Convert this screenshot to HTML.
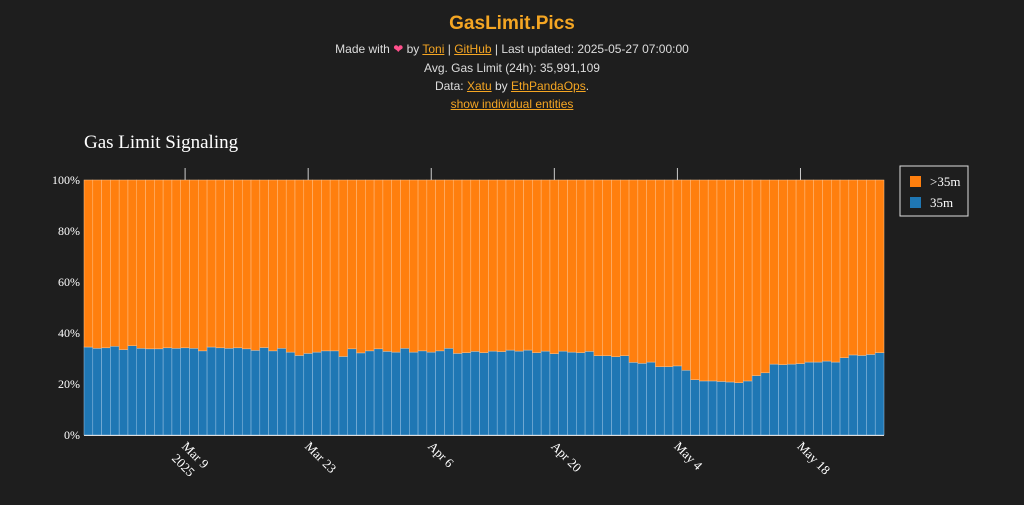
<!DOCTYPE html>
<html><head><meta charset="utf-8"><style>
body{margin:0;width:1024px;height:505px;background:#1e1e1e;overflow:hidden;font-family:"Liberation Sans",sans-serif;color:#ddd}
.hdr{position:absolute;left:0;width:1024px;text-align:center;font-size:12px;color:#ddd}
a{color:#f5a623;text-decoration:underline}
</style></head><body>
<div class="hdr" style="top:13px;font-size:19px;font-weight:bold;color:#f5a623">GasLimit.Pics</div>
<div class="hdr" style="top:42px">Made with <span style="color:#ff4f8b">❤</span> by <a>Toni</a> | <a>GitHub</a> | Last updated: 2025-05-27 07:00:00</div>
<div class="hdr" style="top:61px">Avg. Gas Limit (24h): 35,991,109</div>
<div class="hdr" style="top:79px">Data: <a>Xatu</a> by <a>EthPandaOps</a>.</div>
<div class="hdr" style="top:97px"><a>show individual entities</a></div>
<svg id="c" width="1024" height="505" style="position:absolute;left:0;top:0">
<text x="84" y="148" fill="#fff" font-family="Liberation Serif,serif" font-size="19">Gas Limit Signaling</text>
<g id="bars"></g><g id="ax"></g>
<g>
<rect x="900" y="166" width="68" height="50" fill="#1e1e1e" stroke="#ddd" stroke-width="1"/>
<g><rect x="910" y="176" width="11" height="11" fill="#ff7f0e"/><text x="930" y="186" fill="#fff" font-family="Liberation Serif,serif" font-size="13">&gt;35m</text></g>
<g><rect x="910" y="197" width="11" height="11" fill="#1f77b4"/><text x="930" y="207" fill="#fff" font-family="Liberation Serif,serif" font-size="13">35m</text></g>
</g>
</svg>
<script>
const startDate = "2025-02-26";
const values35m = [34.5,34,34.2,34.8,33.5,35,34,33.8,33.8,34.2,34,34.2,34,33,34.5,34.2,34,34.2,33.8,33.2,34.3,33,34,32.5,31.2,32,32.5,33,33,30.8,33.8,32.2,33,33.8,32.8,32.5,34,32.5,33,32.5,33,34,32,32.3,32.8,
32.3,32.9,32.7,33.3,32.9,33.3,32.3,32.9,31.9,32.9,32.5,32.3,32.8,31.1,31.1,30.7,31.1,28.5,28.1,28.6,26.8,26.8,27.1,25.4,21.7,21.2,21.2,21.0,20.8,20.5,21.2,23.3,24.4,27.8,27.6,27.8,28.0,28.6,28.6,29.0,28.6,30.3,31.4,31.2,31.6,32.3];
const yTicks = [0,20,40,60,80,100];
const xTickLabels = ["Mar 9","Mar 23","Apr 6","Apr 20","May 4","May 18"];
const xTickDays = [11,25,39,53,67,81];
const X0=84,X1=884,Y0=435,Y1=180,NS="http://www.w3.org/2000/svg";
const n=values35m.length,bw=(X1-X0)/n;
const xs=i=>X0+i*bw, ys=v=>Y0-(Y0-Y1)*v/100;
const bars=document.getElementById('bars'),ax=document.getElementById('ax');
function mk(tag,at,par){const e=document.createElementNS(NS,tag);for(const k in at)e.setAttribute(k,at[k]);par.appendChild(e);return e;}
values35m.forEach((v,i)=>{
  const b=mk('rect',{x:xs(i),y:ys(v),width:bw,height:Y0-ys(v),fill:'#1f77b4',stroke:'#9fc6e6','stroke-width':0.5},bars);
  
  
  const o=mk('rect',{x:xs(i),y:Y1,width:bw,height:ys(v)-Y1,fill:'#ff7f0e',stroke:'#ffc48f','stroke-width':0.5},bars);
  
  
});
mk('line',{x1:X0,x2:X1,y1:Y0+0.5,y2:Y0+0.5,stroke:'#ddd','stroke-width':1},ax);
yTicks.forEach(t=>{
  const tx=mk('text',{x:X0-4,y:ys(t)+4,fill:'#fff','text-anchor':'end','font-family':'Liberation Serif,serif','font-size':12},ax);
  tx.textContent=t+'%';
  
  
});
xTickLabels.forEach((l,i)=>{
  const x=xs(xTickDays[i]+0.5);
  mk('line',{x1:x,x2:x,y1:Y1-12,y2:Y1,stroke:'#ccc','stroke-width':1},ax);
  const tx=mk('text',{x:x-4,y:Y0+12,fill:'#fff','font-family':'Liberation Serif,serif','font-size':13,transform:`rotate(45 ${x-4} ${Y0+12})`},ax);
  tx.textContent=l;
  
  
  if(i==0){const y=mk('text',{x:x-14,y:Y0+24,fill:'#fff','font-family':'Liberation Serif,serif','font-size':13,transform:`rotate(45 ${x-14} ${Y0+24})`},ax);
  y.textContent='2025';
  
  }
});
</script>
</body></html>
